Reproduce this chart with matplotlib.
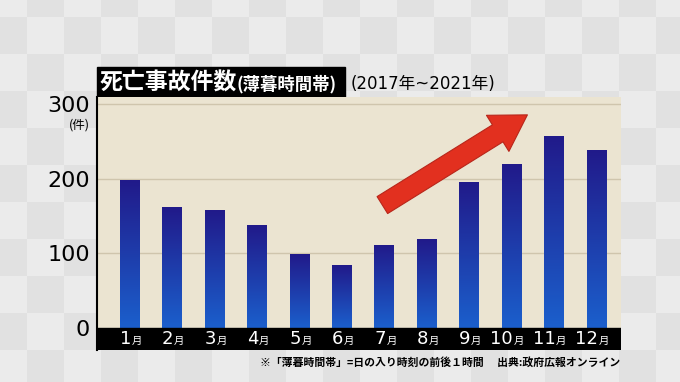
import numpy as np
import matplotlib
matplotlib.use("Agg")
import matplotlib.pyplot as plt

plt.rcParams['font.family'] = ['DejaVu Sans', 'Noto Sans CJK JP']

months = ['1', '2', '3', '4', '5', '6', '7', '8', '9', '10', '11', '12']
deaths = [198, 162, 158, 138, 99, 84, 112, 119, 196, 220, 258, 239]
yticks = [0, 100, 200, 300]

title_main = '死亡事故件数'
title_sub = '(薄暮時間帯)'
period = '(2017年~2021年)'
note = '※「薄暮時間帯」=日の入り時刻の前後１時間　 出典:政府広報オンライン'

fig = plt.figure(figsize=(6.8, 3.82), dpi=100)

# checkered grey background
bg = fig.add_axes([0, 0, 1, 1], zorder=0)
sq = 37
ny, nx = 382 // sq + 2, 680 // sq + 2
checker = (np.add.outer(np.arange(ny), np.arange(nx)) % 2).astype(float)
bg.imshow(checker, cmap=matplotlib.colors.ListedColormap(['#ebebeb', '#e1e1e1']),
          extent=(-10, nx * sq - 10, ny * sq - 20, -20), interpolation='nearest')
bg.set_xlim(0, 680)
bg.set_ylim(382, 0)
bg.axis('off')

# title box
bg.add_patch(plt.Rectangle((97, 67), 248, 30, color='black'))
bg.text(100, 83, title_main, color='white', fontsize=16.5, fontweight='bold', va='center',
        family='Noto Sans CJK JP')
bg.text(236, 84, title_sub, color='white', fontsize=12.5, fontweight='bold', va='center',
        family='Noto Sans CJK JP')
bg.text(351, 84, period, color='black', fontsize=12, va='center')
bg.text(620, 362, note, color='black', fontsize=7.8, fontweight='bold', ha='right', va='center',
        family='Noto Sans CJK JP')

ax = fig.add_axes([97 / 680, 32 / 382, 524 / 680, 253 / 382], zorder=1)
ax.set_facecolor('#ebe4d1')
x = np.arange(len(months))
bars = ax.bar(x, deaths, width=0.46, color='#1f2a9a', zorder=2)

grad = np.linspace(0, 1, 100).reshape(-1, 1)
cmap = matplotlib.colors.LinearSegmentedColormap.from_list('b', ['#1b5fcc', '#211a8a'])
for b in bars:
    x0, w, h = b.get_x(), b.get_width(), b.get_height()
    im = ax.imshow(grad, cmap=cmap, aspect='auto', origin='lower',
                   extent=(x0, x0 + w, 0, h), zorder=3)
    im.set_clip_path(b)

ax.set_xlim(-0.77, 11.58)
ax.set_ylim(-29.5, 310)
for t in yticks[1:]:
    ax.axhline(t, color='#cfc5ad', lw=1, zorder=1)
ax.axhspan(-29.5, 0, color='black', zorder=4)

ax.set_yticks(yticks)
ax.set_yticklabels([str(t) for t in yticks], fontsize=16)
ax.tick_params(axis='y', length=0, pad=5)
ax.set_xticks([])
for s in ['top', 'right', 'bottom']:
    ax.spines[s].set_visible(False)
ax.spines['left'].set_color('black')
ax.spines['left'].set_linewidth(1.5)

ax.annotate('(件)', xy=(0, 300), xycoords=('axes fraction', 'data'),
            xytext=(-5, -15), textcoords='offset points', ha='right', va='center',
            fontsize=9, family='Noto Sans CJK JP')

for i, m in enumerate(months):
    ax.annotate(m, xy=(i, -15), xytext=(1, 0), textcoords='offset points',
                ha='right', va='center', color='white', fontsize=13, zorder=5)
    ax.annotate('月', xy=(i, -15), xytext=(1.5, -1.5), textcoords='offset points',
                ha='left', va='center', color='white', fontsize=7.5, zorder=5,
                family='Noto Sans CJK JP')

# red trend arrow
ax.annotate('', xy=(9.43, 288), xytext=(5.9, 163),
            arrowprops=dict(arrowstyle='simple,head_width=1.7,head_length=1.4,tail_width=0.8',
                            fc='#e2301f', ec='#b8261a', lw=0.8, mutation_scale=18),
            zorder=6)

fig.savefig('out.png', dpi=100)
